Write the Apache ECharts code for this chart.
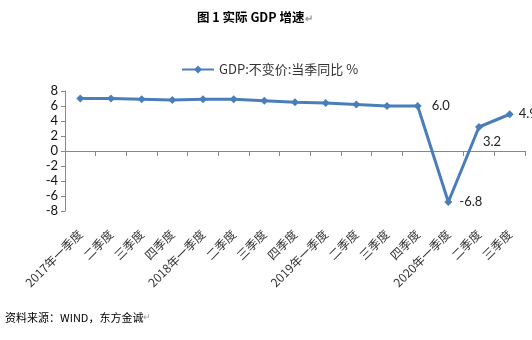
<!DOCTYPE html>
<html><head><meta charset="utf-8">
<script src="https://cdn.jsdelivr.net/npm/echarts@6/dist/echarts.min.js"></script>
<style>html,body{margin:0;padding:0;background:#fff}#c{width:532px;height:340px}</style>
</head><body><div id="c"></div>
<script>
const categories = ['2017年一季度','二季度','三季度','四季度','2018年一季度','二季度','三季度','四季度','2019年一季度','二季度','三季度','四季度','2020年一季度','二季度','三季度'];
const gdpValues = [7.0, 7.0, 6.9, 6.8, 6.9, 6.9, 6.7, 6.5, 6.4, 6.2, 6.0, 6.0, -6.8, 3.2, 4.9];
const yTicks = [-8, -6, -4, -2, 0, 2, 4, 6, 8];
const seriesName = 'GDP:不变价:当季同比 %';
const titleText = '图 1 实际 GDP 增速';
const sourceText = '资料来源：WIND，东方金诚';

const labelCfg = {
  11: {position: 'right', distance: 10, offset: [0, 0]},
  12: {position: 'right', distance: 7, offset: [0, 0]},
  13: {position: 'bottom', distance: 4, offset: [13, 0]},
  14: {position: 'right', distance: 5, offset: [0, 0]}
};
const data = gdpValues.map((v, i) => {
  const cfg = labelCfg[i];
  if (!cfg) return v;
  return {
    value: v,
    label: Object.assign({
      show: true,
      formatter: p => p.value.toFixed(1),
      fontFamily: 'Lato, "Open Sans", sans-serif',
      fontSize: 13,
      color: '#222'
    }, cfg)
  };
});

const chart = echarts.init(document.getElementById('c'), null, {renderer: 'canvas'});
chart.setOption({
  animation: false,
  backgroundColor: '#fff',
  textStyle: {fontFamily: '"Noto Sans CJK SC", sans-serif'},
  title: {
    text: '{t|' + titleText + '}{m|↵}',
    left: 192, top: 6,
    textStyle: {
      rich: {
        t: {fontFamily: '"Noto Sans CJK SC", sans-serif', fontWeight: 'bold', fontSize: 12.5, color: '#000'},
        m: {fontSize: 10, color: '#999', padding: [2, 0, 0, 1]}
      }
    }
  },
  legend: {
    top: 58, left: 176,
    itemWidth: 32, itemHeight: 10, itemGap: 5,
    textStyle: {fontFamily: '"Noto Sans CJK SC", sans-serif', fontSize: 13, color: '#333'},
    data: [seriesName]
  },
  grid: {left: 65, right: 7, top: 91, bottom: 129, containLabel: false},
  xAxis: {
    type: 'category',
    data: categories,
    boundaryGap: true,
    axisLine: {onZero: true, lineStyle: {color: '#888', width: 1}},
    axisTick: {show: true, inside: false, length: 5, lineStyle: {color: '#888'}},
    axisLabel: {
      interval: 0, rotate: 45, margin: 21,
      fontFamily: '"Noto Sans CJK SC", sans-serif', fontSize: 12, color: '#333'
    },
    splitLine: {show: false}
  },
  yAxis: {
    type: 'value',
    min: -8, max: 8, interval: 2,
    axisLine: {show: true, lineStyle: {color: '#888', width: 1}},
    axisTick: {show: true, inside: false, length: 4, lineStyle: {color: '#888'}},
    axisLabel: {
      margin: 7, fontFamily: 'Lato, "Open Sans", sans-serif', fontSize: 13, color: '#111',
      formatter: v => yTicks.includes(v) ? String(v) : ''
    },
    splitLine: {show: false}
  },
  graphic: [{
    type: 'text', left: 5, top: 312,
    style: {
      text: '{s|' + sourceText + '}{m|↵}',
      rich: {
        s: {fontFamily: '"Noto Sans CJK SC", sans-serif', fontSize: 11, fill: '#000'},
        m: {fontSize: 9, fill: '#999'}
      }
    }
  }],
  series: [{
    name: seriesName,
    type: 'line',
    data: data,
    symbol: 'diamond',
    symbolSize: 8,
    showAllSymbol: true,
    lineStyle: {color: '#4a7ebb', width: 3},
    itemStyle: {color: '#4a7ebb'}
  }]
});
</script>
</body></html>
